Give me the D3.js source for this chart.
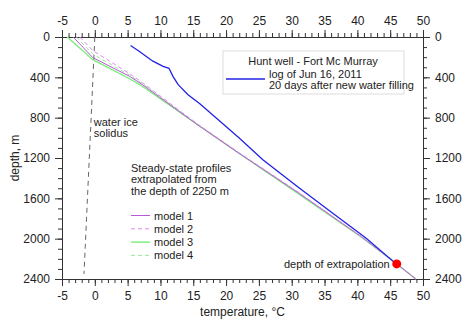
<!DOCTYPE html>
<html>
<head>
<meta charset="utf-8">
<script src="https://cdn.jsdelivr.net/npm/d3@7"></script>
<style>
  body { margin: 0; background: #fff; }
  text { font-family: "Liberation Sans", Arial, sans-serif; fill: #222; }
</style>
</head>
<body>
<svg id="chart" width="462" height="321"></svg>
<script>
// temperature log, [T degC, depth m]
const logJun16 = [[5.45, 85], [6.8, 143], [8.85, 240], [10.4, 292], [11.3, 310], [11.9, 390],
  [12.7, 473], [14.2, 572], [16, 662], [22, 1002], [25.6, 1217], [31.2, 1500], [36.2, 1745],
  [41.3, 1993], [46, 2255]];

// steady-state models
const model1 = [[-3.3, 0], [-0.3, 205], [5.3, 390], [7.2, 470], [15.7, 873], [21.9, 1150],
  [31.0, 1545], [40.7, 1985], [46, 2250], [48.9, 2400]];
const model2 = [[-2.3, 0], [-0.3, 135], [5.3, 364], [7.3, 455], [15.8, 870], [22, 1148],
  [31.1, 1543], [40.7, 1984], [46, 2250], [48.9, 2400]];
const model3 = [[-4.2, 0], [-0.3, 225], [5.3, 414], [6.9, 474], [15.9, 880], [22.0, 1155],
  [31.0, 1555], [40.7, 1988], [46, 2250], [48.9, 2400]];
const model4 = [[-2.8, 0], [-0.3, 170], [5.3, 378], [7.2, 462], [15.7, 872], [21.9, 1150],
  [31.0, 1545], [40.7, 1985], [46, 2250], [48.9, 2400]];

const solidus = [[0, 0], [-1.65, 2350]];
const extrapPoint = [46, 2250];

const xTicks = [-5, 0, 5, 10, 15, 20, 25, 30, 35, 40, 45, 50];
const yTicks = [0, 400, 800, 1200, 1600, 2000, 2400];
const modelNames = ['model 1', 'model 2', 'model 3', 'model 4'];

const svg = d3.select('#chart');
const m = { left: 62, right: 423, top: 37, bottom: 279 };

const x = d3.scaleLinear().domain([-5, 50]).range([m.left, m.right]);
const y = d3.scaleLinear().domain([0, 2400]).range([m.top, m.bottom]);

const fmt = d => String(d);
const axisStroke = g => {
  g.select('.domain').attr('stroke', '#333');
  g.selectAll('.tick line').attr('stroke', '#333');
  g.selectAll('text').attr('font-size', 12).attr('fill', '#222')
   .attr('font-family', '"Liberation Sans", Arial, sans-serif');
};

// minor ticks first, then major with labels
const xMinor = d3.range(-5, 51, 1);
const yMinor = d3.range(0, 2401, 100);

svg.append('g').attr('transform', `translate(0,${m.bottom})`)
   .call(d3.axisBottom(x).tickValues(xMinor).tickSize(4).tickFormat('').tickSizeOuter(0)).call(axisStroke);
svg.append('g').attr('transform', `translate(0,${m.bottom})`)
   .call(d3.axisBottom(x).tickValues(xTicks).tickSize(7).tickPadding(5).tickFormat(fmt).tickSizeOuter(0)).call(axisStroke);

svg.append('g').attr('transform', `translate(0,${m.top})`)
   .call(d3.axisTop(x).tickValues(xMinor).tickSize(4).tickFormat('').tickSizeOuter(0)).call(axisStroke);
svg.append('g').attr('transform', `translate(0,${m.top})`)
   .call(d3.axisTop(x).tickValues(xTicks).tickSize(7).tickPadding(5).tickFormat(fmt).tickSizeOuter(0)).call(axisStroke);

svg.append('g').attr('transform', `translate(${m.left},0)`)
   .call(d3.axisLeft(y).tickValues(yMinor).tickSize(4).tickFormat('').tickSizeOuter(0)).call(axisStroke);
svg.append('g').attr('transform', `translate(${m.left},0)`)
   .call(d3.axisLeft(y).tickValues(yTicks).tickSize(7).tickPadding(5).tickFormat(fmt).tickSizeOuter(0)).call(axisStroke);

svg.append('g').attr('transform', `translate(${m.right},0)`)
   .call(d3.axisRight(y).tickValues(yMinor).tickSize(4).tickFormat('').tickSizeOuter(0)).call(axisStroke);
svg.append('g').attr('transform', `translate(${m.right},0)`)
   .call(d3.axisRight(y).tickValues(yTicks).tickSize(7).tickPadding(5).tickFormat(fmt).tickSizeOuter(0)).call(axisStroke);

// axis titles
svg.append('text').attr('x', (m.left + m.right) / 2).attr('y', 316)
   .attr('text-anchor', 'middle').attr('font-size', 12).text('temperature, \u00B0C');
svg.append('text').attr('transform', `translate(19,${(m.top + m.bottom) / 2}) rotate(-90)`)
   .attr('text-anchor', 'middle').attr('font-size', 12).text('depth, m');

const line = d3.line().x(d => x(d[0])).y(d => y(d[1]));

// water ice solidus
svg.append('path').datum(solidus).attr('d', line).attr('fill', 'none')
   .attr('stroke', '#666').attr('stroke-width', 1).attr('stroke-dasharray', '5,4');
svg.append('text').attr('x', x(0) - 1).attr('y', 126).attr('font-size', 11).text('water ice');
svg.append('text').attr('x', x(0) - 1).attr('y', 137).attr('font-size', 11).text('solidus');

// models
const models = [
  { data: model3, color: '#78ee78', dash: null, width: 1.4 },
  { data: model4, color: '#9be89b', dash: '4,3', width: 1 },
  { data: model1, color: '#b65ad8', dash: null, width: 1 },
  { data: model2, color: '#e286f0', dash: '4,3', width: 1 }
];
models.forEach(md => {
  svg.append('path').datum(md.data).attr('d', line).attr('fill', 'none')
     .attr('stroke', md.color).attr('stroke-width', md.width)
     .attr('stroke-dasharray', md.dash);
});

// measured log
svg.append('path').datum(logJun16).attr('d', line).attr('fill', 'none')
   .attr('stroke', '#2222e6').attr('stroke-width', 1.3);

// extrapolation point
svg.append('circle').attr('cx', x(extrapPoint[0])).attr('cy', y(extrapPoint[1]))
   .attr('r', 4.5).attr('fill', '#ff0000');
svg.append('text').attr('x', x(extrapPoint[0]) - 7).attr('y', y(extrapPoint[1]) + 4)
   .attr('text-anchor', 'end').attr('font-size', 11).text('depth of extrapolation');

// legend box (log)
svg.append('rect').attr('x', 223).attr('y', 51).attr('width', 181).attr('height', 43)
   .attr('fill', '#fff').attr('stroke', '#ddd');
svg.append('text').attr('x', 313).attr('y', 65).attr('text-anchor', 'middle')
   .attr('font-size', 11).text('Hunt well - Fort Mc Murray');
svg.append('line').attr('x1', 226).attr('x2', 265).attr('y1', 79).attr('y2', 79)
   .attr('stroke', '#2222e6').attr('stroke-width', 1.3);
svg.append('text').attr('x', 269).attr('y', 78).attr('font-size', 11).text('log of Jun 16, 2011');
svg.append('text').attr('x', 269).attr('y', 89).attr('font-size', 11).text('20 days after new water filling');

// models legend
const notes = ['Steady-state profiles', 'extrapolated from', 'the depth of 2250 m'];
svg.selectAll('.note').data(notes).enter().append('text').attr('class', 'note')
   .attr('x', 131).attr('y', (d, i) => 172 + i * 11.3).attr('font-size', 11).text(d => d);

const legendModels = [models[2], models[3], models[0], models[1]];
const lg = svg.selectAll('.lg').data(modelNames).enter().append('g').attr('class', 'lg')
   .attr('transform', (d, i) => `translate(131,${215.5 + i * 13.3})`);
lg.append('line').attr('x1', 0).attr('x2', 19).attr('y1', 0).attr('y2', 0)
   .attr('stroke', (d, i) => legendModels[i].color)
   .attr('stroke-width', (d, i) => legendModels[i].width)
   .attr('stroke-dasharray', (d, i) => legendModels[i].dash);
lg.append('text').attr('x', 23).attr('y', 4).attr('font-size', 11).text(d => d);
</script>
</body>
</html>
